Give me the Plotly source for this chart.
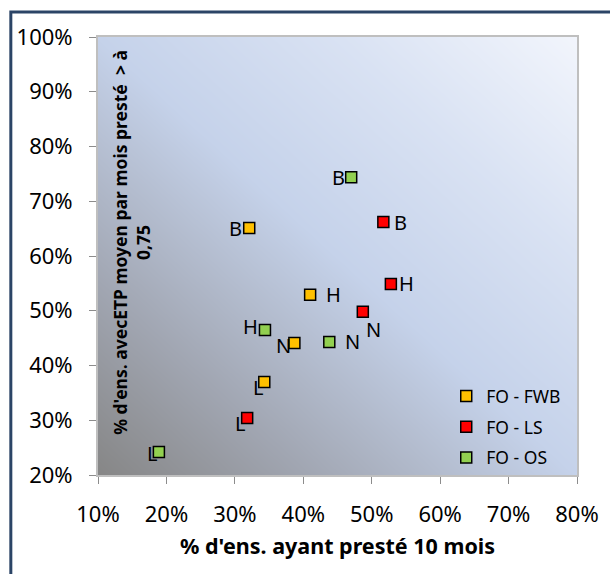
import numpy as np
import plotly.graph_objects as go

# ---- data ----
series_names = ["FO - FWB", "FO - LS", "FO - OS"]
point_labels = ["B", "H", "N", "L"]
fwb_x = [32.1, 41.0, 38.7, 34.3]
fwb_y = [65.1, 52.9, 44.1, 37.0]
ls_x = [51.7, 52.8, 48.7, 31.8]
ls_y = [66.2, 54.9, 49.8, 30.4]
os_x = [47.0, 34.4, 43.8, 18.9]
os_y = [74.4, 46.5, 44.3, 24.2]
x_ticks = [10, 20, 30, 40, 50, 60, 70, 80]
y_ticks = [20, 30, 40, 50, 60, 70, 80, 90, 100]

# ---- styles ----
colors = ["#ffc000", "#ff0000", "#92d050"]
# label pixel offsets (dx, dy) relative to marker, dy positive = down
label_shift = [
    [(-14, 0), (23, 0), (-11, 2), (-6, 6)],
    [(17, 0), (16, 0), (11, 18), (-7, 5)],
    [(-13, 0), (-14, -3), (23, 0), (-7, 1)],
]
FONT = "Noto Sans"

fig = go.Figure()

# background gradient (styling only)
gx = np.linspace(10, 80, 60)
gy = np.linspace(20, 100, 60)
GX, GY = np.meshgrid((gx - 10) / 70, (gy - 20) / 80)
gz = (GX + GY) / 2
fig.add_trace(go.Heatmap(
    x=gx, y=gy, z=gz, zsmooth="best", showscale=False, hoverinfo="skip",
    zmin=0, zmax=1,
    colorscale=[[0, "#868686"], [0.22, "#a1a6b2"], [0.5, "#c5d2ea"],
                [0.75, "#d9e2f3"], [1, "#f2f5fc"]],
    showlegend=False,
))

annotations = []
for name, xs, ys, col, shifts in zip(series_names, [fwb_x, ls_x, os_x],
                                      [fwb_y, ls_y, os_y], colors, label_shift):
    fig.add_trace(go.Scatter(
        x=xs, y=ys, mode="markers", name=name, legendgroup=name,
        marker=dict(symbol="square", size=11, color=col,
                    line=dict(color="#000000", width=1.5)),
    ))
    for lab, xv, yv, (dx, dy) in zip(point_labels, xs, ys, shifts):
        annotations.append(dict(
            x=xv, y=yv, xref="x", yref="y", text=lab, showarrow=False,
            xshift=dx, yshift=-dy, xanchor="center", yanchor="middle",
            font=dict(family=FONT, size=20, color="#000000"),
        ))

annotations.append(dict(
    text="<b>% d'ens. avecETP moyen par mois presté  > à<br>0,75</b>",
    xref="paper", yref="paper", x=0.071, y=0.53,
    xanchor="center", yanchor="middle", textangle=-90, showarrow=False,
    font=dict(family=FONT, size=17.5, color="#000000"), align="center",
))

fig.update_layout(
    width=610, height=574,
    margin=dict(l=98, r=33, t=37, b=99),
    paper_bgcolor="#ffffff",
    plot_bgcolor="#c6d3ea",
    font=dict(family=FONT, size=20, color="#000000"),
    showlegend=True,
    legend=dict(
        x=0.727, y=0.221, xanchor="left", yanchor="top",
        bgcolor="rgba(0,0,0,0)", font=dict(family=FONT, size=17.5),
        itemwidth=30, tracegroupgap=5,
    ),
    shapes=[dict(
        type="rect", xref="paper", yref="paper",
        x0=-0.182, x1=1.3, y0=-0.4, y1=1.057,
        line=dict(color="#2b4466", width=3), fillcolor="rgba(0,0,0,0)",
        layer="below",
    )],
    annotations=annotations,
)
fig.update_xaxes(
    range=[10, 80], tickvals=x_ticks, ticktext=[f"{v}%" for v in x_ticks],
    showgrid=False, zeroline=False, showline=True, linecolor="#bfbfbf",
    linewidth=2, mirror=True, ticks="outside", ticklen=7, tickcolor="#8c8c8c",
    ticklabelstandoff=12,
    title=dict(text="<b>% d'ens. ayant presté 10 mois</b>",
               font=dict(family=FONT, size=21.5), standoff=12),
    tickfont=dict(family=FONT, size=22),
)
fig.update_yaxes(
    range=[20, 100], tickvals=y_ticks, ticktext=[f"{v}%" for v in y_ticks],
    showgrid=False, zeroline=False, showline=True, linecolor="#bfbfbf",
    linewidth=2, mirror=True, ticks="outside", ticklen=7, tickcolor="#8c8c8c",
    ticklabelstandoff=12,
    tickfont=dict(family=FONT, size=22),
)

fig.write_html("out.html")
